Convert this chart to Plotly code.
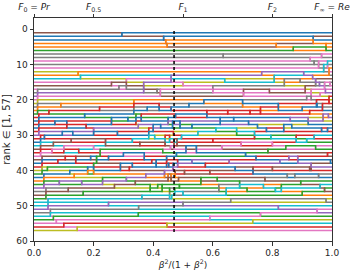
import plotly.graph_objects as go

TAB = {"blue": "#1f77b4", "orange": "#ff7f0e", "green": "#2ca02c", "red": "#d62728",
       "purple": "#9467bd", "brown": "#8c564b", "pink": "#e377c2", "gray": "#7f7f7f",
       "olive": "#bcbd22", "cyan": "#17becf"}

# colour of the series holding rank 1..57 at x = 0 (precision order)
start_colors = [
    "brown", "blue", "blue", "orange", "orange", "green", "gray", "gray", "pink", "gray",
    "pink", "olive", "orange", "cyan", "pink", "brown", "pink", "gray", "purple", "pink",
    "olive", "gray", "orange", "green", "red", "blue", "red", "blue", "red", "purple",
    "red", "blue", "cyan", "brown", "red", "pink", "brown", "blue", "red", "olive",
    "green", "blue", "orange", "green", "purple", "gray", "brown", "green", "cyan", "cyan",
    "purple", "gray", "cyan", "green", "pink", "red", "olive",
]

# rank changes: (x, rank before, rank after)
moves = [
    # diving pink series
    (0.012, 17, 24), (0.016, 24, 30), (0.022, 30, 36), (0.027, 36, 41), (0.033, 41, 45),
    (0.040, 45, 48), (0.047, 48, 51), (0.055, 51, 53), (0.065, 53, 54), (0.075, 54, 55),
    (0.100, 55, 56), (0.145, 56, 57),
    # top ranks
    (0.295, 2, 1), (0.435, 3, 2), (0.442, 3, 4), (0.447, 4, 5), (0.635, 8, 7),
    (0.813, 5, 4), (0.870, 6, 5), (0.927, 9, 8), (0.937, 4, 2), (0.940, 10, 9),
    (0.955, 11, 9), (0.965, 8, 7), (0.972, 12, 10), (0.980, 6, 4), (0.985, 9, 11),
    (0.990, 13, 11),
    # upper middle
    (0.148, 12, 13), (0.156, 14, 13), (0.260, 15, 16), (0.285, 16, 17), (0.310, 17, 14),
    (0.368, 18, 15), (0.413, 17, 18), (0.424, 19, 17), (0.460, 15, 13), (0.500, 16, 15),
    (0.600, 18, 16), (0.640, 14, 15), (0.703, 19, 17), (0.764, 13, 12), (0.790, 17, 18),
    (0.806, 15, 13), (0.840, 16, 14), (0.893, 14, 15), (0.910, 18, 16), (0.930, 20, 17),
    (0.945, 16, 14), (0.960, 19, 18), (0.975, 17, 15), (0.990, 21, 19),
    (0.905, 12, 13), (0.915, 19, 20), (0.925, 24, 23), (0.935, 14, 13), (0.948, 20, 22),
    (0.958, 15, 16), (0.968, 23, 21), (0.978, 18, 17), (0.988, 25, 24), (0.993, 16, 15),
    # middle
    (0.050, 24, 23), (0.070, 27, 26), (0.090, 22, 21), (0.110, 26, 28), (0.130, 30, 29),
    (0.170, 25, 24), (0.200, 28, 30), (0.220, 23, 22), (0.240, 31, 33), (0.260, 27, 25),
    (0.335, 20, 24), (0.342, 24, 27), (0.350, 27, 28), (0.385, 28, 31), (0.330, 32, 31),
    (0.360, 26, 24), (0.400, 29, 27), (0.420, 23, 21), (0.440, 33, 30), (0.450, 25, 27),
    (0.455, 30, 32), (0.460, 22, 23), (0.465, 28, 26), (0.470, 34, 31), (0.475, 24, 25),
    (0.480, 31, 33), (0.490, 26, 28), (0.520, 21, 22), (0.550, 29, 30), (0.580, 25, 23),
    (0.600, 32, 31), (0.625, 27, 25), (0.650, 23, 24), (0.680, 30, 28), (0.700, 22, 20),
    (0.720, 26, 27), (0.740, 31, 29), (0.760, 24, 22), (0.780, 28, 29), (0.800, 33, 32),
    (0.820, 21, 23), (0.838, 29, 27), (0.860, 25, 26), (0.880, 32, 30), (0.900, 23, 22),
    (0.920, 27, 25), (0.940, 30, 31), (0.950, 22, 21), (0.970, 26, 24), (0.985, 29, 28),
    (0.280, 30, 29), (0.300, 35, 36), (0.315, 25, 26), (0.320, 39, 40), (0.340, 44, 43),
    (0.355, 33, 32), (0.375, 42, 41), (0.380, 23, 22), (0.395, 37, 38), (0.405, 31, 30),
    (0.415, 45, 44), (0.425, 27, 28), (0.432, 34, 35), (0.438, 40, 42),
    # lower middle
    (0.035, 30, 31), (0.045, 40, 39), (0.065, 33, 32), (0.085, 43, 44), (0.095, 29, 30),
    (0.105, 37, 36), (0.115, 45, 46), (0.125, 31, 32), (0.135, 42, 41), (0.150, 34, 35),
    (0.165, 47, 46), (0.175, 28, 27), (0.190, 36, 37),
    (0.060, 35, 34), (0.080, 38, 37), (0.100, 33, 35), (0.120, 41, 40), (0.140, 36, 38),
    (0.160, 44, 43), (0.180, 39, 41), (0.200, 34, 33), (0.230, 42, 44), (0.250, 37, 36),
    (0.270, 45, 44), (0.290, 40, 38), (0.200, 41, 38), (0.210, 38, 36), (0.222, 36, 34),
    (0.310, 43, 42), (0.330, 38, 39), (0.370, 35, 37), (0.390, 44, 46), (0.410, 39, 37),
    (0.430, 46, 44), (0.445, 36, 39), (0.450, 41, 43), (0.455, 48, 45), (0.460, 43, 41),
    (0.467, 38, 40), (0.472, 45, 47), (0.478, 35, 36), (0.485, 42, 43), (0.500, 47, 46),
    (0.530, 37, 38), (0.560, 44, 42), (0.590, 40, 41), (0.620, 46, 44), (0.655, 38, 37),
    (0.690, 43, 45), (0.710, 36, 35), (0.735, 41, 39), (0.770, 45, 44), (0.800, 39, 40),
    (0.830, 44, 46), (0.855, 37, 36), (0.875, 42, 41), (0.900, 46, 47), (0.930, 40, 38),
    (0.960, 45, 44), (0.985, 36, 35),
    (0.452, 39, 38), (0.458, 33, 34), (0.462, 47, 48), (0.468, 29, 30), (0.474, 42, 40),
    (0.482, 37, 39), (0.488, 44, 45), (0.495, 31, 30), (0.505, 40, 41), (0.510, 35, 33),
    (0.530, 27, 28), (0.545, 33, 35), (0.570, 21, 20), (0.575, 39, 38), (0.610, 29, 28),
    (0.615, 43, 42), (0.630, 34, 33), (0.645, 47, 45), (0.670, 26, 25), (0.675, 40, 39),
    (0.695, 32, 33), (0.715, 45, 46), (0.725, 24, 23), (0.745, 37, 36), (0.750, 28, 27),
    (0.775, 42, 43), (0.785, 35, 34), (0.795, 30, 31), (0.810, 46, 45), (0.825, 38, 37),
    (0.845, 33, 34), (0.850, 41, 42), (0.865, 27, 28), (0.885, 36, 38), (0.895, 44, 43),
    (0.915, 31, 32), (0.925, 39, 40), (0.945, 34, 33), (0.955, 42, 41), (0.965, 28, 29),
    (0.975, 46, 45), (0.995, 38, 37),
    # bottom ranks
    (0.250, 49, 50), (0.350, 52, 53), (0.351, 51, 50), (0.362, 47, 48), (0.446, 56, 55),
    (0.500, 50, 49), (0.590, 54, 53), (0.660, 48, 49), (0.734, 55, 54), (0.760, 53, 52),
    (0.820, 51, 50), (0.950, 52, 51), (0.980, 49, 48),
]

top_tick_vals = [0.0, 0.2, 0.5, 0.8, 1.0]
top_tick_text = ["<i>F</i><sub>0</sub> = <i>Pr</i>", "<i>F</i><sub>0.5</sub>", "<i>F</i><sub>1</sub>",
                 "<i>F</i><sub>2</sub>", "<i>F</i><sub>∞</sub> = <i>Re</i>"]
x_tick_vals = [0.0, 0.2, 0.4, 0.6, 0.8, 1.0]
x_tick_text = ["0.0", "0.2", "0.4", "0.6", "0.8", "1.0"]
y_tick_vals = [0, 10, 20, 30, 40, 50, 60]
marker_x = 0.47
marker_y = [0.5, 57.5]

n = len(start_colors)
order = list(range(n))
paths = [[(0.0, i + 1)] for i in range(n)]
for x, a, b in sorted(moves, key=lambda m: m[0]):
    old = {s: r + 1 for r, s in enumerate(order)}
    s = order.pop(a - 1)
    order.insert(b - 1, s)
    for r, t in enumerate(order):
        if old[t] != r + 1:
            paths[t].append((x, old[t]))
            paths[t].append((x, r + 1))
for r, s in enumerate(order):
    paths[s].append((1.0, r + 1))

fig = go.Figure()
for i in range(n):
    fig.add_trace(go.Scatter(
        x=[p[0] for p in paths[i]], y=[p[1] for p in paths[i]], mode="lines",
        line=dict(color=TAB[start_colors[i]], width=1.5), hoverinfo="skip", showlegend=False))

fig.add_trace(go.Scatter(x=[marker_x, marker_x], y=marker_y, mode="lines", xaxis="x2",
                         line=dict(color="black", width=1.5, dash="dot"),
                         hoverinfo="skip", showlegend=False))

font = dict(family="DejaVu Sans", size=9, color="#262626")
axis_common = dict(showgrid=False, zeroline=False, showline=True, linecolor="#333333", linewidth=1,
                   ticks="outside", ticklen=3.5, tickwidth=0.8, tickcolor="#333333", tickfont=font,
                   automargin=False)
fig.update_layout(
    width=354, height=276, margin=dict(l=34, r=22, t=18, b=35, autoexpand=False),
    paper_bgcolor="white", plot_bgcolor="white", font=font,
    xaxis=dict(range=[0, 1], tickvals=x_tick_vals, ticktext=x_tick_text, mirror=True,
               title=dict(text="<i>β</i><sup>2</sup>/(1 + <i>β</i><sup>2</sup>)", font=font, standoff=4),
               **axis_common),
    xaxis2=dict(range=[0, 1], overlaying="x", side="top", tickvals=top_tick_vals,
                ticktext=top_tick_text, **axis_common),
    yaxis=dict(range=[60, -3.2], tickvals=y_tick_vals, mirror=True,
               title=dict(text="rank ∈ [1, 57]", font=dict(family="DejaVu Sans", size=10, color="#262626"),
                          standoff=3), **axis_common),
)
fig.write_html("out.html", config={"displayModeBar": False},
               post_script="document.body.style.margin='0';")
